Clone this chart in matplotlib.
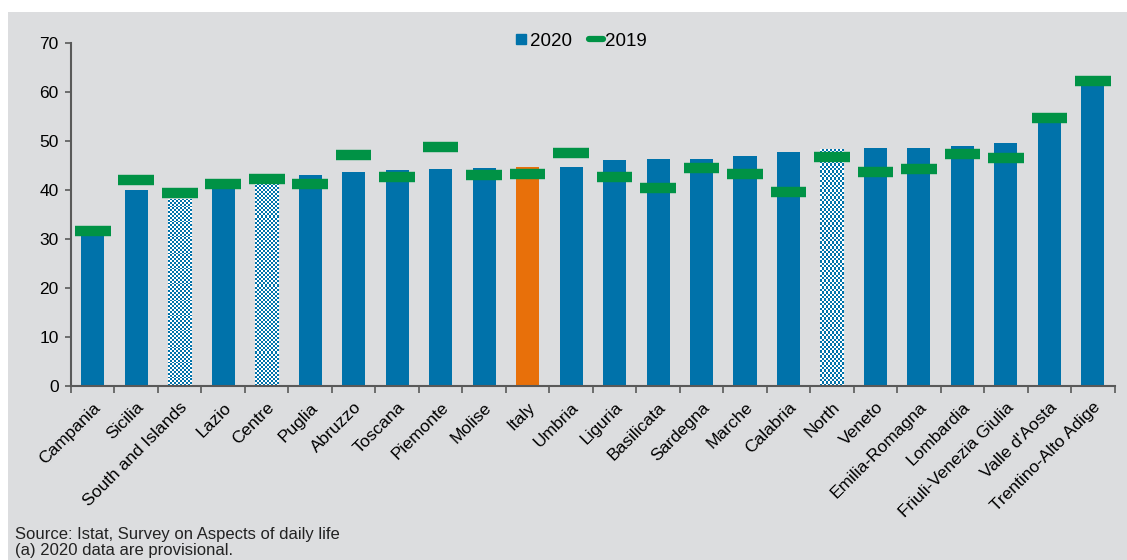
import matplotlib.pyplot as plt
import matplotlib.patches as mpatches
from matplotlib.lines import Line2D
import numpy as np

plt.rcParams['font.family'] = ['Liberation Sans', 'DejaVu Sans']

regions = ['Campania', 'Sicilia', 'South and Islands', 'Lazio', 'Centre',
           'Puglia', 'Abruzzo', 'Toscana', 'Piemonte', 'Molise', 'Italy',
           'Umbria', 'Liguria', 'Basilicata', 'Sardegna', 'Marche',
           'Calabria', 'North', 'Veneto', 'Emilia-Romagna', 'Lombardia',
           'Friuli-Venezia Giulia', "Valle d'Aosta", 'Trentino-Alto Adige']
values_2020 = [30.6, 40.0, 38.2, 40.3, 41.4, 43.1, 43.7, 44.1, 44.3, 44.4,
               44.6, 44.7, 46.2, 46.4, 46.4, 47.0, 47.7, 48.4, 48.5, 48.5,
               48.9, 49.5, 54.3, 61.4]
values_2019 = [31.6, 42.0, 39.3, 41.2, 42.3, 41.2, 47.2, 42.7, 48.8, 43.0,
               43.3, 47.5, 42.7, 40.4, 44.5, 43.2, 39.5, 46.8, 43.6, 44.2,
               47.4, 46.6, 54.8, 62.3]
macro_areas = ['South and Islands', 'Centre', 'North']
total_label = 'Italy'

BLUE = '#0072AA'
GREEN = '#009245'
ORANGE = '#E8700A'
BG = '#DCDDDF'
AXIS = '#595959'

fig = plt.figure(figsize=(11.27, 5.6), dpi=100)
fig.patch.set_facecolor('white')
fig.patches.append(mpatches.Rectangle((8 / 1127, 0), 1, 1 - 12 / 560,
                                      transform=fig.transFigure,
                                      facecolor=BG, edgecolor='none',
                                      zorder=-10))

ax = fig.add_axes([0.063, 0.311, 0.926, 0.612])
ax.set_facecolor('none')

x = np.arange(len(regions))
colors = [ORANGE if r == total_label else BLUE for r in regions]
bars = ax.bar(x, values_2020, width=0.53, color=colors, zorder=2)

# macro areas get a checkered fill clipped to the bar shape
checker = np.indices((100, 12)).sum(axis=0) % 2
for bar, name in zip(bars, regions):
    if name in macro_areas:
        bar.set_facecolor('white')
        bx, bw, bh = bar.get_x(), bar.get_width(), bar.get_height()
        img = ax.imshow(checker, cmap=plt.matplotlib.colors.ListedColormap(['white', BLUE]),
                        extent=(bx, bx + bw, 0, bh), aspect='auto',
                        interpolation='nearest', zorder=2.5)
        img.set_clip_path(bar)

ax.hlines(values_2019, x - 0.41, x + 0.41, color=GREEN, linewidth=7.5,
          capstyle='butt', zorder=3)

ax.set_xlim(-0.5, len(regions) - 0.5)
ax.set_ylim(0, 70)
ax.set_yticks(range(0, 71, 10))
ax.set_xticks(x)
ax.set_xticklabels(regions, rotation=45, ha='right', rotation_mode='anchor',
                   fontsize=12.5)
ax.set_xticks(np.arange(-0.5, len(regions), 1), minor=True)
ax.tick_params(axis='x', which='major', length=0, pad=10)
ax.tick_params(axis='x', which='minor', length=5, width=1.2, color=AXIS,
               direction='out')
ax.tick_params(axis='y', length=4, width=1.2, color=AXIS, labelsize=12.5,
               pad=5)

for side in ['top', 'right']:
    ax.spines[side].set_visible(False)
for side in ['left', 'bottom']:
    ax.spines[side].set_color(AXIS)
    ax.spines[side].set_linewidth(1.5)

handles = [Line2D([], [], marker='s', linestyle='none', color=BLUE,
                  markersize=7),
           Line2D([], [], color=GREEN, linewidth=4.5, solid_capstyle='round')]
ax.legend(handles, ['2020', '2019'], loc='upper center',
          bbox_to_anchor=(0.488, 1.08), ncol=2, frameon=False, fontsize=13.5,
          handlelength=0.75, handletextpad=0.1, columnspacing=0.9)

note_font = ['Liberation Sans Narrow', 'Liberation Sans', 'DejaVu Sans']
fig.text(15 / 1127, 1 - 535 / 560, 'Source: Istat, Survey on Aspects of daily life',
         fontsize=12, family=note_font, va='center', color='#222222')
fig.text(15 / 1127, 1 - 551 / 560, '(a) 2020 data are provisional.',
         fontsize=12, family=note_font, va='center', color='#222222')

fig.savefig('out.png', dpi=100, facecolor=fig.get_facecolor())
